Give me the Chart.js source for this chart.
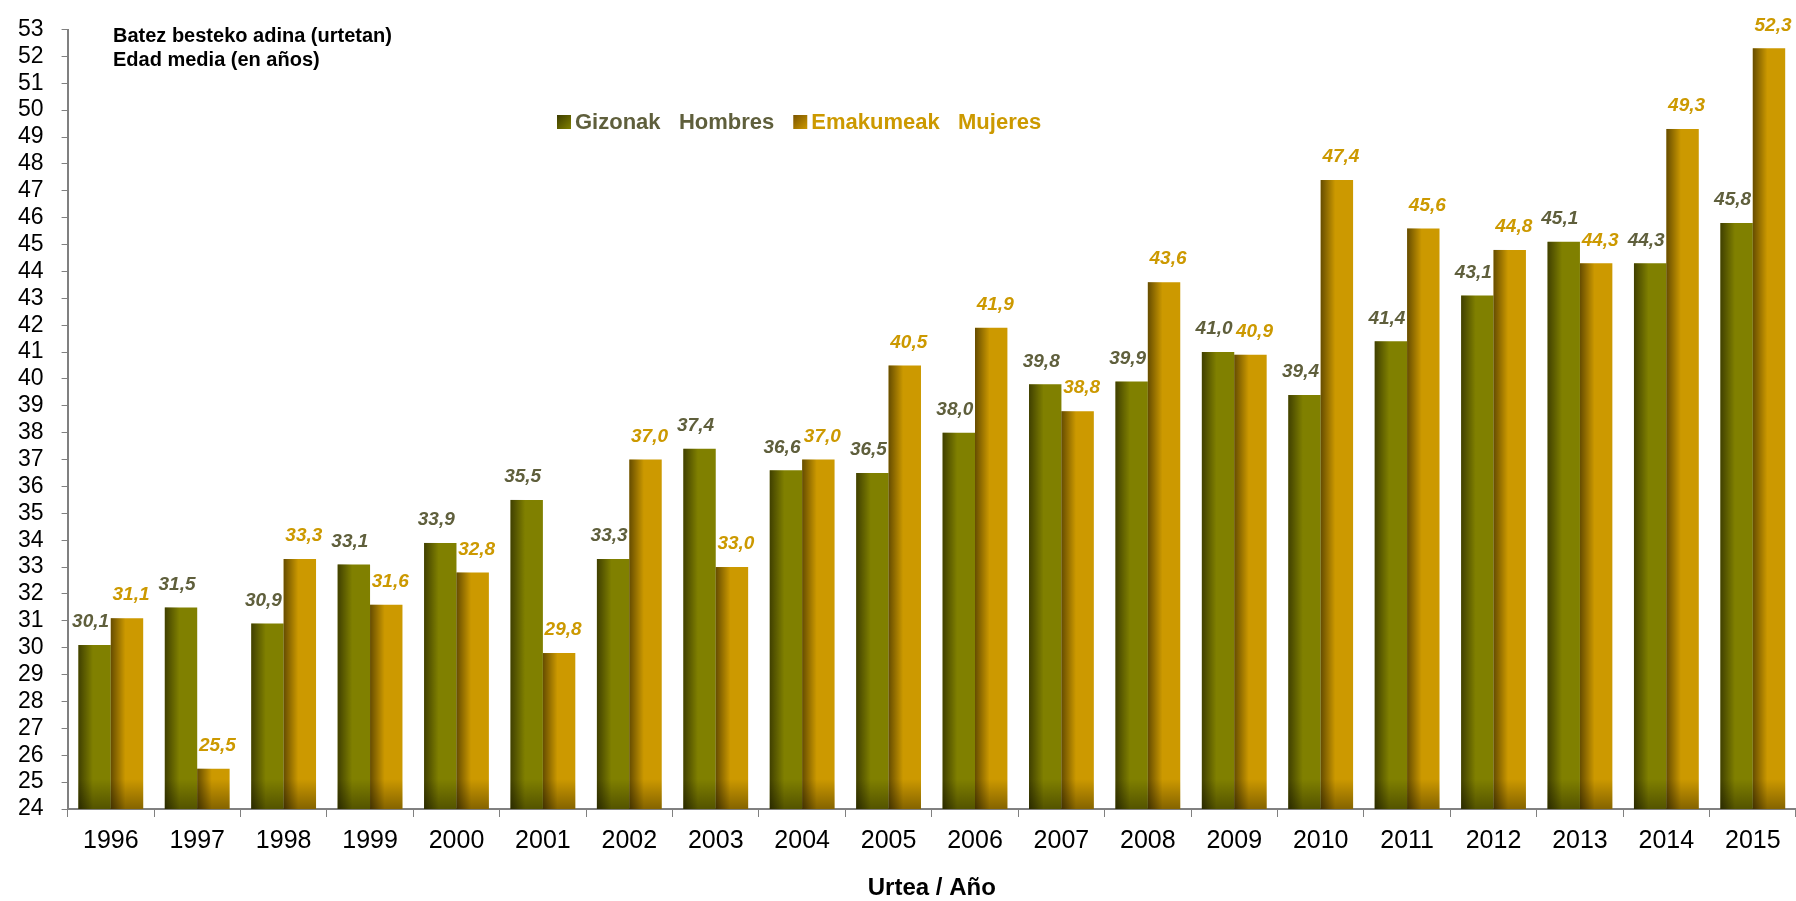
<!DOCTYPE html>
<html>
<head>
<meta charset="utf-8">
<script src="https://cdn.jsdelivr.net/npm/chart.js@4"></script>
<style>
  html, body { margin: 0; padding: 0; background: #fff; }
  #wrap { position: relative; width: 1796px; height: 901px; }
</style>
</head>
<body>
<div id="wrap"><canvas id="ageChart"></canvas></div>
<script>
// Data
const years = ['1996', '1997', '1998', '1999', '2000', '2001', '2002', '2003', '2004', '2005',
               '2006', '2007', '2008', '2009', '2010', '2011', '2012', '2013', '2014', '2015'];
const gizonak = [30.1, 31.5, 30.9, 33.1, 33.9, 35.5, 33.3, 37.4, 36.6, 36.5,
                 38.0, 39.8, 39.9, 41.0, 39.4, 41.4, 43.1, 45.1, 44.3, 45.8];
const emakumeak = [31.1, 25.5, 33.3, 31.6, 32.8, 29.8, 37.0, 33.0, 37.0, 40.5,
                   41.9, 38.8, 43.6, 40.9, 47.4, 45.6, 44.8, 44.3, 49.3, 52.3];
const seriesNames = ['Gizonak   Hombres', 'Emakumeak   Mujeres'];
const titleLines = ['Batez besteko adina (urtetan)', 'Edad media (en años)'];
const axisTitle = 'Urtea / Año';

const FONT = '"Liberation Sans", Arial, Helvetica, sans-serif';
const GREEN = '#808000';
const GREEN_DARK = '#3c3c00';
const ORANGE = '#cc9900';
const ORANGE_DARK = '#7a5300';
const GREEN_TEXT = '#5f5f3c';

const formatValue = v => v.toFixed(1).replace('.', ',');

// Shading on the bars: dark left edge and a darker foot
const barShading = {
    id: 'barShading',
    afterDatasetsDraw(chart) {
        const ctx = chart.ctx;
        const area = chart.chartArea;
        chart.data.datasets.forEach((ds, di) => {
            const meta = chart.getDatasetMeta(di);
            meta.data.forEach(bar => {
                const left = bar.x - bar.width / 2;
                const bottom = Math.min(bar.base, area.bottom);
                const h = bottom - bar.y;
                ctx.save();
                let g = ctx.createLinearGradient(left, 0, left + bar.width * 0.45, 0);
                g.addColorStop(0, 'rgba(0,0,0,0.5)');
                g.addColorStop(1, 'rgba(0,0,0,0)');
                ctx.fillStyle = g;
                ctx.fillRect(left, bar.y, bar.width, h);
                const foot = Math.min(30, h);
                g = ctx.createLinearGradient(0, bottom - foot, 0, bottom);
                g.addColorStop(0, 'rgba(0,0,0,0)');
                g.addColorStop(1, 'rgba(0,0,0,0.35)');
                ctx.fillStyle = g;
                ctx.fillRect(left, bottom - foot, bar.width, foot);
                ctx.restore();
            });
        });
    }
};

// Value labels above the bars
const valueLabels = {
    id: 'valueLabels',
    afterDatasetsDraw(chart) {
        const ctx = chart.ctx;
        ctx.save();
        ctx.font = 'italic bold 19px ' + FONT;
        ctx.textAlign = 'center';
        ctx.textBaseline = 'middle';
        chart.data.datasets.forEach((ds, di) => {
            const meta = chart.getDatasetMeta(di);
            const shift = di === 0 ? -4 : 4;
            ctx.fillStyle = di === 0 ? GREEN_TEXT : ORANGE;
            meta.data.forEach((bar, i) => {
                ctx.fillText(formatValue(ds.data[i]), bar.x + shift, bar.y - 23);
            });
        });
        ctx.restore();
    }
};

// Title and legend sit inside the plot area
const innerText = {
    id: 'innerText',
    afterDraw(chart) {
        const ctx = chart.ctx;
        ctx.save();
        ctx.fillStyle = '#000';
        ctx.font = 'bold 20px ' + FONT;
        ctx.textBaseline = 'middle';
        ctx.textAlign = 'left';
        titleLines.forEach((t, i) => ctx.fillText(t, 113, 36 + i * 24));

        ctx.font = 'bold 22px ' + FONT;
        let x = 557;
        const y = 122;
        const colors = [[GREEN_DARK, GREEN, GREEN_TEXT], [ORANGE_DARK, ORANGE, ORANGE]];
        seriesNames.forEach((name, i) => {
            const g = ctx.createLinearGradient(x, y - 7, x + 14, y + 7);
            g.addColorStop(0, colors[i][0]);
            g.addColorStop(1, colors[i][1]);
            ctx.fillStyle = g;
            ctx.fillRect(x, y - 7, 14, 14);
            ctx.fillStyle = colors[i][2];
            ctx.fillText(name, x + 18, y + 1);
            x += 18 + ctx.measureText(name).width + 19;
        });
        ctx.restore();
    }
};

new Chart(document.getElementById('ageChart'), {
    type: 'bar',
    data: {
        labels: years,
        datasets: [{
            label: seriesNames[0],
            data: gizonak,
            backgroundColor: GREEN,
            categoryPercentage: 0.75,
            barPercentage: 1
        }, {
            label: seriesNames[1],
            data: emakumeak,
            backgroundColor: ORANGE,
            categoryPercentage: 0.75,
            barPercentage: 1
        }]
    },
    options: {
        responsive: true,
        maintainAspectRatio: false,
        animation: false,
        layout: { padding: { left: 0, right: 0, top: 0, bottom: 0 } },
        plugins: {
            legend: { display: false },
            tooltip: { enabled: false }
        },
        scales: {
            x: {
                offset: true,
                grid: {
                    offset: true,
                    drawOnChartArea: false,
                    drawTicks: true,
                    tickLength: 8,
                    color: '#808080'
                },
                border: { color: '#808080', width: 2 },
                ticks: {
                    color: '#000',
                    font: { family: FONT, size: 25, lineHeight: 1.2 },
                    padding: 9,
                    maxRotation: 0
                },
                title: {
                    display: true,
                    text: axisTitle,
                    color: '#000',
                    font: { family: FONT, size: 24, weight: 'bold', lineHeight: 1.0 },
                    padding: { top: 11, bottom: 1 }
                }
            },
            y: {
                min: 24,
                max: 53,
                grid: {
                    drawOnChartArea: false,
                    drawTicks: true,
                    tickLength: 6,
                    color: '#808080'
                },
                border: { color: '#808080', width: 2 },
                ticks: {
                    stepSize: 1,
                    autoSkip: false,
                    color: '#000',
                    font: { family: FONT, size: 23, lineHeight: 1.0 },
                    padding: 18
                }
            }
        }
    },
    plugins: [barShading, valueLabels, innerText]
});
</script>
</body>
</html>
